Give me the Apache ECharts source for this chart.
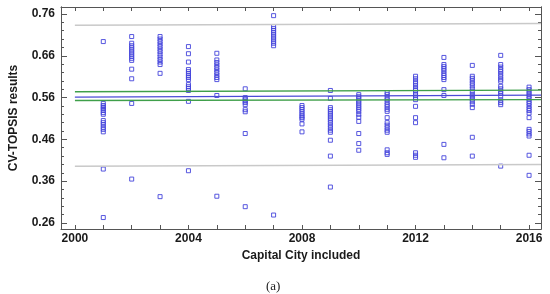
<!DOCTYPE html>
<html>
<head>
<meta charset="utf-8">
<script src="https://cdn.jsdelivr.net/npm/echarts@6/dist/echarts.min.js"></script>
<style>
  html, body {margin: 0; padding: 0; background: #fff;}
  #chart {width: 550px; height: 294px;}
</style>
</head>
<body>
<div id="chart"></div>
<script>
// Scores per year (CV-TOPSIS results)
var years = [2001, 2002, 2003, 2004, 2005, 2006, 2007, 2008, 2009, 2010, 2011, 2012, 2013, 2014, 2015, 2016];
var y2001 = [0.694, 0.546, 0.541, 0.537, 0.533, 0.529, 0.524, 0.520, 0.505, 0.500, 0.495, 0.489, 0.484, 0.478, 0.389, 0.273];
var y2002 = [0.706, 0.690, 0.684, 0.679, 0.674, 0.669, 0.664, 0.659, 0.654, 0.649, 0.628, 0.605, 0.546, 0.365];
var y2003 = [0.706, 0.700, 0.694, 0.688, 0.682, 0.676, 0.670, 0.664, 0.657, 0.651, 0.645, 0.639, 0.618, 0.323];
var y2004 = [0.682, 0.665, 0.645, 0.627, 0.622, 0.617, 0.612, 0.608, 0.603, 0.591, 0.586, 0.582, 0.577, 0.551, 0.385];
var y2005 = [0.666, 0.650, 0.644, 0.638, 0.632, 0.626, 0.620, 0.614, 0.608, 0.603, 0.565, 0.324];
var y2006 = [0.581, 0.560, 0.556, 0.552, 0.548, 0.543, 0.531, 0.526, 0.474, 0.299];
var y2007 = [0.756, 0.730, 0.725, 0.720, 0.715, 0.710, 0.705, 0.700, 0.695, 0.690, 0.684, 0.279];
var y2008 = [0.541, 0.536, 0.531, 0.526, 0.521, 0.516, 0.512, 0.508, 0.497, 0.478];
var y2009 = [0.577, 0.558, 0.536, 0.531, 0.526, 0.521, 0.516, 0.511, 0.506, 0.500, 0.494, 0.488, 0.482, 0.477, 0.458, 0.420, 0.346];
var y2010 = [0.567, 0.562, 0.557, 0.552, 0.547, 0.542, 0.537, 0.532, 0.527, 0.520, 0.513, 0.503, 0.474, 0.450, 0.434];
var y2011 = [0.572, 0.567, 0.561, 0.555, 0.549, 0.543, 0.538, 0.532, 0.527, 0.512, 0.500, 0.494, 0.488, 0.482, 0.477, 0.435, 0.428, 0.424];
var y2012 = [0.611, 0.605, 0.599, 0.594, 0.588, 0.582, 0.577, 0.571, 0.566, 0.560, 0.555, 0.539, 0.512, 0.500, 0.428, 0.422, 0.417];
var y2013 = [0.656, 0.639, 0.634, 0.629, 0.624, 0.618, 0.613, 0.608, 0.603, 0.579, 0.565, 0.448, 0.416];
var y2014 = [0.637, 0.611, 0.606, 0.600, 0.594, 0.588, 0.581, 0.575, 0.567, 0.562, 0.556, 0.550, 0.544, 0.536, 0.465, 0.420];
var y2015 = [0.661, 0.639, 0.633, 0.627, 0.622, 0.616, 0.610, 0.604, 0.599, 0.587, 0.581, 0.575, 0.570, 0.564, 0.554, 0.548, 0.543, 0.396];
var y2016 = [0.585, 0.579, 0.574, 0.568, 0.563, 0.557, 0.551, 0.546, 0.540, 0.534, 0.529, 0.523, 0.512, 0.484, 0.479, 0.473, 0.468, 0.422, 0.374];
var scoresByYear = [y2001, y2002, y2003, y2004, y2005, y2006, y2007, y2008, y2009, y2010, y2011, y2012, y2013, y2014, y2015, y2016];

// Fitted line, confidence and prediction limits (start / end)
var fitX = [2000, 2016.42];
var fitLine = [0.561, 0.566];
var confUpper = [0.574, 0.578];
var confLower = [0.553, 0.555];
var predUpper = [0.733, 0.737];
var predLower = [0.396, 0.400];

// Ticks
var xTickYears = [2000, 2001, 2002, 2003, 2004, 2005, 2006, 2007, 2008, 2009, 2010, 2011, 2012, 2013, 2014, 2015, 2016];
var xLabelYears = [2000, 2004, 2008, 2012, 2016];
var yMajor = [0.26, 0.36, 0.46, 0.56, 0.66, 0.76];
var yMinor = [0.28, 0.30, 0.32, 0.34, 0.38, 0.40, 0.42, 0.44, 0.48, 0.50, 0.52, 0.54, 0.58, 0.60, 0.62, 0.64, 0.68, 0.70, 0.72, 0.74];

var X_MIN = 1999.51, X_MAX = 2016.42;
var Y_MIN = 0.2456, Y_MAX = 0.7767;

function pairs(xs, ys) {
  var out = [];
  for (var i = 0; i < xs.length; i++) out.push([xs[i], ys[i]]);
  return out;
}

var points = [];
for (var i = 0; i < years.length; i++) {
  var vals = scoresByYear[i];
  for (var j = 0; j < vals.length; j++) points.push([years[i], vals[j]]);
}

var axisColor = '#555';
var labelStyle = {fontFamily: 'Liberation Sans, Arial', fontWeight: 'bold', fontSize: 12, color: '#1a1a1a'};

function yAxisDef(pos, ticks, len, withLabels) {
  return {
    type: 'value',
    position: pos,
    min: Y_MIN,
    max: Y_MAX,
    axisLine: {show: true, lineStyle: {color: axisColor, width: 1}},
    axisTick: {show: true, inside: true, length: len, customValues: ticks, lineStyle: {color: axisColor}},
    axisLabel: withLabels ? Object.assign({
      customValues: yMajor,
      margin: 6,
      formatter: function(v) { return v.toFixed(2); }
    }, labelStyle) : {show: false},
    splitLine: {show: false}
  };
}

function xAxisDef(pos, withLabels) {
  return {
    type: 'value',
    position: pos,
    min: X_MIN,
    max: X_MAX,
    axisLine: {show: true, lineStyle: {color: axisColor, width: 1}},
    axisTick: {show: true, inside: true, length: 4, customValues: xTickYears, lineStyle: {color: axisColor}},
    axisLabel: withLabels ? Object.assign({
      customValues: xLabelYears,
      margin: 4,
      formatter: function(v) { return String(Math.round(v)); }
    }, labelStyle) : {show: false},
    splitLine: {show: false}
  };
}

var chart = echarts.init(document.getElementById('chart'));
chart.setOption({
  animation: false,
  backgroundColor: '#fff',
  grid: {left: 57, right: 9, top: 7, bottom: 65},
  xAxis: [
    Object.assign(xAxisDef('bottom', true), {
      name: 'Capital City included',
      nameLocation: 'middle',
      nameGap: 20,
      nameTextStyle: labelStyle
    }),
    xAxisDef('top', false)
  ],
  yAxis: [
    Object.assign(yAxisDef('left', yMajor, 6, true), {
      name: 'CV-TOPSIS results',
      nameLocation: 'middle',
      nameGap: 41,
      nameTextStyle: labelStyle
    }),
    yAxisDef('left', yMinor, 3, false),
    yAxisDef('right', yMajor, 6, false),
    yAxisDef('right', yMinor, 3, false)
  ],
  graphic: [{
    type: 'text',
    left: 266,
    top: 280,
    style: {text: '(a)', font: '13px "Liberation Serif", serif', fill: '#222'},
    silent: true
  }],
  series: [
    {type: 'line', data: pairs(fitX, predUpper), symbol: 'none', lineStyle: {color: '#c9c9c9', width: 1.5}},
    {type: 'line', data: pairs(fitX, predLower), symbol: 'none', lineStyle: {color: '#c9c9c9', width: 1.5}},
    {type: 'line', data: pairs(fitX, confUpper), symbol: 'none', lineStyle: {color: '#3f9f4a', width: 1.3}},
    {type: 'line', data: pairs(fitX, confLower), symbol: 'none', lineStyle: {color: '#3f9f4a', width: 1.3}},
    {type: 'line', data: pairs(fitX, fitLine), symbol: 'none', lineStyle: {color: '#4b4bd6', width: 1.3}},
    {
      type: 'scatter',
      data: points,
      symbol: 'rect',
      symbolSize: 4,
      itemStyle: {color: 'rgba(0,0,0,0)', borderColor: '#4545dc', borderWidth: 1, opacity: 0.9}
    }
  ]
});
</script>
</body>
</html>
